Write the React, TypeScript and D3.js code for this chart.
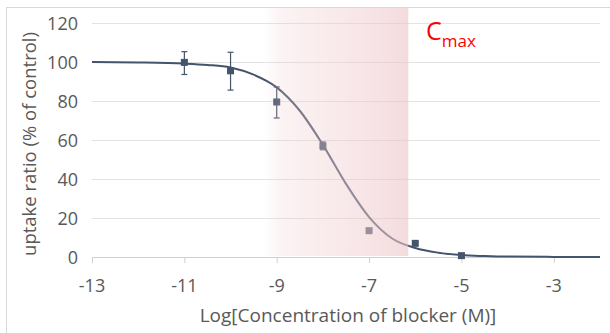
import React, { useRef, useEffect } from 'react';
import * as d3 from 'd3';

// measured points
const logConc = [-11, -10, -9, -8, -7, -6, -5];
const uptake = [99.8, 95.5, 79.5, 57, 13.5, 7, 0.7];
const errUp = [5.5, 9.5, 7.7, 2, 0, 0, 0];
const errDown = [6.2, 9.9, 8.2, 2, 0, 0, 0];

// fitted curve
const fitX = [-13, -12, -11, -10.5, -10, -9.5, -9, -8.5, -8, -7.5, -7, -6.5, -6, -5.5, -5, -4.5, -4, -3, -2];
const fitY = [100, 99.8, 99.2, 98.5, 97.2, 93.5, 87, 75, 57.5, 37.5, 20.5, 9.5, 4.6, 2.2, 1, 0.5, 0.2, 0.05, 0];

const xTicks = [-13, -11, -9, -7, -5, -3];
const yTicks = [0, 20, 40, 60, 80, 100, 120];

// shaded region (log M)
const bandRange = [-9.25, -6.15];

const W = 610;
const H = 333;
const font = '"Open Sans", sans-serif';

export default function App() {
  const svgRef = useRef<SVGSVGElement>(null);

  useEffect(() => {
    const svg = d3.select(svgRef.current);
    svg.selectAll('*').remove();

    const x = d3.scaleLinear().domain([-13, -2]).range([92, 600]);
    const y = d3.scaleLinear().domain([0, 120]).range([257, 23]);

    // chart frame
    svg.append('rect')
      .attr('x', 6.5).attr('y', 7.5)
      .attr('width', W).attr('height', H)
      .attr('fill', '#fff').attr('stroke', '#d9d9d9');

    // gridlines
    svg.append('g').selectAll('line')
      .data(yTicks.filter(d => d > 0))
      .enter().append('line')
      .attr('x1', x(-13)).attr('x2', x(-2))
      .attr('y1', d => y(d) + 0.5).attr('y2', d => y(d) + 0.5)
      .attr('stroke', '#e3e3e3').attr('stroke-width', 1);

    // x axis line + ticks
    svg.append('line')
      .attr('x1', x(-13)).attr('x2', x(-2))
      .attr('y1', y(0) + 0.5).attr('y2', y(0) + 0.5)
      .attr('stroke', '#d0d0d0');
    svg.append('g').selectAll('line')
      .data(xTicks)
      .enter().append('line')
      .attr('x1', d => x(d) + 0.5).attr('x2', d => x(d) + 0.5)
      .attr('y1', y(0)).attr('y2', y(0) + 6)
      .attr('stroke', '#d0d0d0');

    // tick labels
    svg.append('g').selectAll('text')
      .data(xTicks)
      .enter().append('text')
      .attr('x', d => x(d)).attr('y', 292)
      .attr('text-anchor', 'middle')
      .attr('font-family', font).attr('font-size', 18)
      .attr('fill', '#595959')
      .text(d => String(d));
    svg.append('g').selectAll('text')
      .data(yTicks)
      .enter().append('text')
      .attr('x', 78).attr('y', d => y(d) + 6.5)
      .attr('text-anchor', 'end')
      .attr('font-family', font).attr('font-size', 18)
      .attr('fill', '#595959')
      .text(d => d);

    // axis titles
    svg.append('text')
      .attr('x', 348).attr('y', 322)
      .attr('text-anchor', 'middle')
      .attr('font-family', font).attr('font-size', 19)
      .attr('fill', '#595959')
      .text('Log[Concentration of blocker (M)]');
    svg.append('text')
      .attr('transform', 'translate(36,144) rotate(-90)')
      .attr('text-anchor', 'middle')
      .attr('font-family', font).attr('font-size', 18.5)
      .attr('fill', '#595959')
      .text('uptake ratio (% of control)');

    const ink = '#44546a';

    // fitted curve
    const line = d3.line<number>()
      .x((_, i) => x(fitX[i]))
      .y(d => y(d))
      .curve(d3.curveMonotoneX);
    svg.append('path')
      .datum(fitY)
      .attr('d', line)
      .attr('fill', 'none')
      .attr('stroke', ink)
      .attr('stroke-width', 2);

    // error bars
    const eb = svg.append('g').attr('stroke', ink).attr('stroke-width', 1.2);
    logConc.forEach((c, i) => {
      if (errUp[i] === 0 && errDown[i] === 0) return;
      const cx = x(c);
      const top = y(uptake[i] + errUp[i]);
      const bot = y(uptake[i] - errDown[i]);
      eb.append('line').attr('x1', cx).attr('x2', cx).attr('y1', top).attr('y2', bot);
      eb.append('line').attr('x1', cx - 3).attr('x2', cx + 3).attr('y1', top).attr('y2', top);
      eb.append('line').attr('x1', cx - 3).attr('x2', cx + 3).attr('y1', bot).attr('y2', bot);
    });

    // markers
    svg.append('g').selectAll('rect')
      .data(uptake)
      .enter().append('rect')
      .attr('x', (_, i) => x(logConc[i]) - 3.5)
      .attr('y', d => y(d) - 3.5)
      .attr('width', 7).attr('height', 7)
      .attr('fill', ink);

    // shaded Cmax band, drawn over the data
    const defs = svg.append('defs');
    const grad = defs.append('linearGradient').attr('id', 'band').attr('x1', '0').attr('x2', '1');
    grad.append('stop').attr('offset', '0').attr('stop-color', 'rgb(240,205,208)').attr('stop-opacity', 0.03);
    grad.append('stop').attr('offset', '0.12').attr('stop-color', 'rgb(240,205,208)').attr('stop-opacity', 0.25);
    grad.append('stop').attr('offset', '0.5').attr('stop-color', 'rgb(240,205,208)').attr('stop-opacity', 0.42);
    grad.append('stop').attr('offset', '1').attr('stop-color', 'rgb(236,196,200)').attr('stop-opacity', 0.6);
    svg.append('rect')
      .attr('x', x(bandRange[0])).attr('y', 8)
      .attr('width', x(bandRange[1]) - x(bandRange[0]))
      .attr('height', y(0) - 1 - 8)
      .attr('fill', 'url(#band)');

    // Cmax label
    const lab = svg.append('text')
      .attr('x', 426).attr('y', 40)
      .attr('font-family', font).attr('fill', '#ff0000');
    lab.append('tspan').attr('font-size', 25).text('C');
    lab.append('tspan').attr('font-size', 17).attr('dy', 7).text('max');
  }, []);

  return (
    <svg
      ref={svgRef}
      width={W}
      height={H}
      style={{ position: 'absolute', left: 0, top: 0, background: '#fff' }}
    />
  );
}
